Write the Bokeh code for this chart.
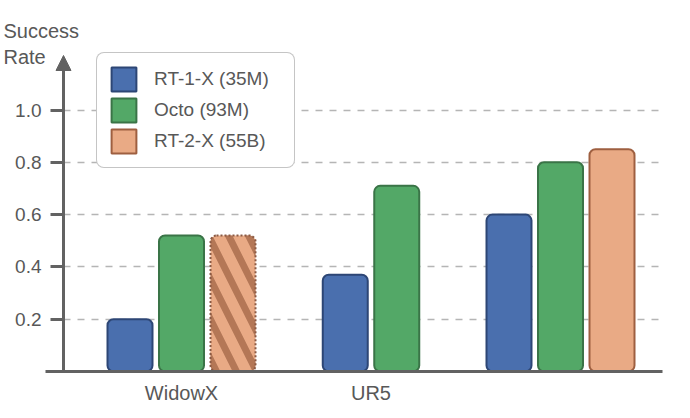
from bokeh.plotting import figure
from bokeh.models import (ColumnDataSource, Range1d, FixedTicker, Legend, LegendItem,
                          Arrow, NormalHead, Label, VBar, Grid, NumeralTickFormatter)
from bokeh.embed import file_html
from bokeh.resources import INLINE

# ---- data ----
categories = ["WidowX", "UR5", ""]
series_names = ["RT-1-X (35M)", "Octo (93M)", "RT-2-X (55B)"]
rt1x = [0.20, 0.37, 0.60]
octo = [0.52, 0.71, 0.80]
rt2x = [0.52, None, 0.85]
rt2x_hatched = [True, False, False]
y_ticks = [0.2, 0.4, 0.6, 0.8, 1.0]

fills = ["#4a6fae", "#53a867", "#e9aa85"]
lines = ["#2d4675", "#3a7447", "#9e5f40"]

FONT = "Liberation Sans"
TXT = "#585858"
AX = "#626262"

W, H = 690, 418
PXU_X, PXU_Y = 189.5, 261.5      # pixels per data unit
GX0, GY0 = 181, 371               # page position of x=0 / y=0
def dx(px):  # page px -> data x
    return (px - GX0) / PXU_X
def dy(py):
    return (GY0 - py) / PXU_Y

XA, XR = dx(63), dx(662)          # y-axis position, right end of grid
YTOP = dy(55)                     # arrow tip

BAR_W = 45 / PXU_X
STEP = 51.5 / PXU_X

p = figure(width=W, height=H, output_backend="svg", toolbar_location=None,
           x_range=Range1d(dx(0), dx(W)), y_range=Range1d(dy(H), dy(0)),
           min_border=0, min_border_left=0, min_border_right=0,
           min_border_top=0, min_border_bottom=0)
p.outline_line_color = None
p.xgrid.grid_line_color = None

# grid lines limited to the plotting area
if "cross_bounds" in Grid.properties():
    p.ygrid.ticker = FixedTicker(ticks=y_ticks)
    p.ygrid.cross_bounds = (XA, XR)
    p.ygrid.grid_line_color = "#b5b5b5"
    p.ygrid.grid_line_width = 1.5
    p.ygrid.grid_line_dash = "7 7"
else:
    p.ygrid.grid_line_color = None
    p.segment(x0=XA, x1=XR, y0=y_ticks, y1=y_ticks, line_color="#b5b5b5",
              line_width=1.5, line_dash="7 7")

all_series = [rt1x, octo, rt2x]
xs = {0: [], 1: [], 2: []}
tops = {0: [], 1: [], 2: []}
hx, ht = [], []
for g in range(len(categories)):
    present = [s for s in range(3) if all_series[s][g] is not None]
    n = len(present)
    for i, s in enumerate(present):
        x = g + (i - (n - 1) / 2) * STEP
        v = all_series[s][g]
        if s == 2 and rt2x_hatched[g]:
            hx.append(x); ht.append(v)
        else:
            xs[s].append(x); tops[s].append(v)

extra = {"border_radius": 6} if "border_radius" in VBar.properties() else {}

renderers = []
for s in range(3):
    src = ColumnDataSource(dict(x=xs[s], top=tops[s]))
    r = p.vbar(x="x", top="top", bottom=0, width=BAR_W, source=src,
               fill_color=fills[s], line_color=lines[s], line_width=2, **extra)
    renderers.append(r)

hsrc = ColumnDataSource(dict(x=hx, top=ht))
p.vbar(x="x", top="top", bottom=0, width=BAR_W, source=hsrc,
       fill_color=fills[2], line_color="#8a5a44", line_width=2, line_dash="2 2",
       hatch_pattern="\\", hatch_color="#b47756", hatch_scale=40, hatch_weight=7, **extra)

# y axis (fixed at data position)
ya = p.yaxis[0]
ya.fixed_location = XA
ya.ticker = FixedTicker(ticks=y_ticks)
ya.formatter = NumeralTickFormatter(format="0.0")
ya.axis_line_color = None
ya.major_tick_out = 13
ya.major_tick_in = 0
ya.major_tick_line_width = 3
ya.major_tick_line_color = AX
ya.minor_tick_line_color = None
ya.major_label_standoff = 9
ya.major_label_text_font = FONT
ya.major_label_text_font_size = "19px"
ya.major_label_text_color = TXT

# x axis
xa = p.xaxis[0]
xa.fixed_location = 0
xa.ticker = FixedTicker(ticks=list(range(len(categories))))
xa.major_label_overrides = {i: c for i, c in enumerate(categories)}
xa.axis_line_color = None
xa.major_tick_line_color = None
xa.minor_tick_line_color = None
xa.major_label_standoff = 4
xa.major_label_text_font = FONT
xa.major_label_text_font_size = "20px"
xa.major_label_text_color = TXT

# axis lines with arrow
p.add_layout(Arrow(x_start=XA, y_start=0, x_end=XA, y_end=YTOP,
                   end=NormalHead(size=15, fill_color=AX, line_color=AX, line_width=1),
                   line_color=AX, line_width=3))
p.add_layout(Arrow(x_start=dx(45), y_start=0, x_end=XR, y_end=0, end=None,
                   line_color=AX, line_width=3))

# y title
p.add_layout(Label(x=dx(3), y=dy(19), text="Success\nRate", text_font=FONT,
                   text_font_size="20px", text_color=TXT, text_baseline="top",
                   text_align="left", text_line_height=1.2))

legend = Legend(items=[LegendItem(label=series_names[s], renderers=[renderers[s]]) for s in range(3)],
                location=(96, H - 168), orientation="vertical",
                padding=11, spacing=1, margin=0,
                glyph_width=31, glyph_height=30, label_standoff=15, label_width=129,
                label_text_font=FONT, label_text_font_size="19px", label_text_color=TXT,
                border_line_color="#8c8c8c", border_line_width=1.5,
                background_fill_color="white", background_fill_alpha=1.0)
if "border_radius" in Legend.properties():
    legend.border_radius = 8
p.add_layout(legend)

open("out.html", "w").write(file_html(p, INLINE))
